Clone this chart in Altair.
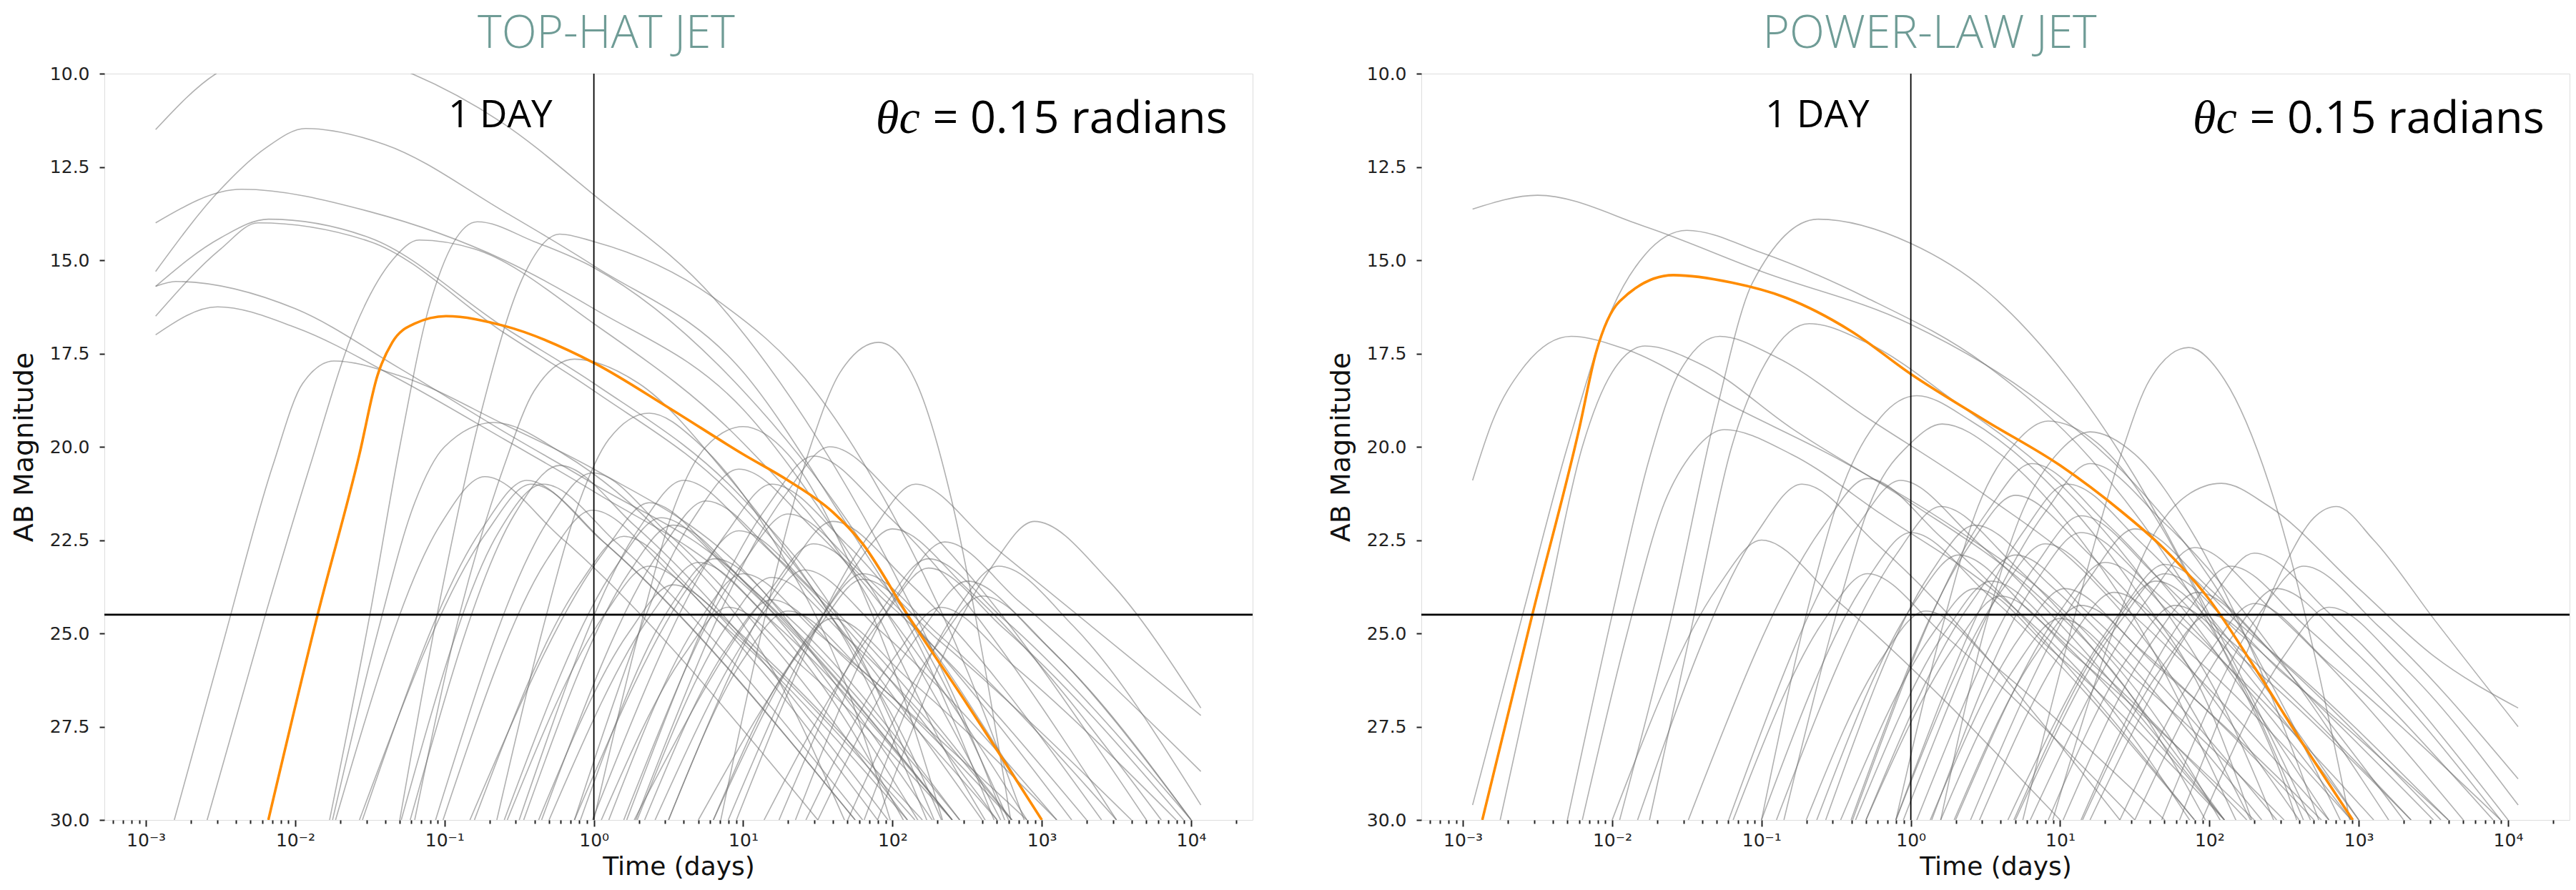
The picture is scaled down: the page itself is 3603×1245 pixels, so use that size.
import altair as alt
import pandas as pd

# ---------------- data (log10 of time in days, AB magnitude) ----------------
tophat_orange = [(-2.18, 30), (-1.85, 24.5), (-1.57, 20.2), (-1.45, 18.1), (-1.35, 17.2),
                 (-1.2, 16.7), (-0.99, 16.5), (-0.6, 16.76), (0.0, 17.75), (0.5, 18.95),
                 (1.0, 20.2), (1.3, 20.9), (1.6, 21.75), (1.8, 22.6), (2.1, 24.5),
                 (2.5, 26.9), (3.0, 30)]

tophat_grey = [
    [(-2.935, 11.5), (-2.53, 10.0), (-1.9, 9.2), (-1.22, 10.0), (-0.62, 11.3), (0, 13.25), (0.8, 16.0), (1.5, 19.8), (2.0, 23.3), (2.5, 27.5), (2.8, 30.5)],
    [(-2.935, 15.3), (-2.5, 13.1), (-2.2, 12.0), (-1.93, 11.47), (-1.4, 11.9), (-0.6, 13.7), (0, 15.15), (1.0, 18.0), (1.6, 21.5), (2.2, 25.5), (2.7, 30.2)],
    [(-2.935, 14.0), (-2.36, 13.1), (-1.5, 13.7), (-0.6, 15.0), (0, 16.3), (1.0, 19.0), (1.7, 22.8), (2.3, 26.8), (2.75, 30.2)],
    [(-2.935, 15.7), (-2.5, 14.4), (-2.18, 13.9), (-1.5, 14.4), (-0.6, 16.8), (0, 18.3), (1.0, 21.4), (1.7, 25.0), (2.3, 30.2)],
    [(-2.935, 16.5), (-2.5, 14.7), (-2.25, 14.0), (-1.5, 14.5), (-0.6, 16.95), (0, 18.5), (1.0, 21.6), (1.7, 25.3), (2.25, 30.2)],
    [(-2.935, 15.7), (-2.8, 15.57), (-2.0, 16.3), (-1.3, 17.9), (-0.6, 19.6), (0, 21.0), (1.0, 23.6), (1.6, 26.5), (2.2, 30.2)],
    [(-2.935, 17.0), (-2.52, 16.25), (-2.0, 16.8), (-1.3, 18.2), (-0.6, 19.8), (0, 21.2), (1.0, 23.9), (1.6, 26.8), (2.1, 30.2)],
    [(-2.81, 30), (-2.5, 25.5), (-2.15, 20.5), (-1.95, 18.3), (-1.74, 17.7), (-1.3, 18.1), (-0.6, 19.4), (0, 20.6), (1.0, 23.3), (1.7, 26.8), (2.3, 30.2)],
    [(-2.59, 30), (-2.2, 24.5), (-1.9, 20.5), (-1.6, 16.8), (-1.35, 15.0), (-1.17, 14.46), (-0.8, 14.7), (0, 16.7), (1.0, 19.9), (1.8, 23.8), (2.4, 28.5), (2.65, 30.2)],
    [(-1.77, 30), (-1.5, 24.5), (-1.3, 20.0), (-1.1, 16.2), (-0.78, 13.97), (-0.4, 14.5), (0, 15.2), (1.0, 18.5), (1.7, 22.0), (2.3, 26.0), (2.8, 30.2)],
    [(-1.3, 30), (-1.05, 24.5), (-0.75, 19.0), (-0.48, 15.5), (-0.23, 14.3), (0, 14.5), (0.8, 16.0), (1.5, 18.6), (2.0, 21.8), (2.5, 26.0), (2.9, 30.2)],
    [(0.85, 30), (1.15, 24.5), (1.45, 20.0), (1.65, 18.0), (1.907, 17.2), (2.15, 18.2), (2.4, 21.5), (2.6, 25.5), (2.8, 30.2)],
    [(-1.2, 30), (-0.9, 24.5), (-0.6, 20.5), (-0.4, 18.5), (-0.13, 17.65), (0.3, 18.3), (0.9, 20.8), (1.5, 24.0), (2.1, 28.0), (2.35, 30.2)],
    [(0.0, 30), (0.3, 25.0), (0.55, 21.5), (0.75, 20.0), (1.0, 19.46), (1.3, 20.2), (1.7, 23.0), (2.1, 27.0), (2.35, 30.2)],
    [(-0.65, 30), (-0.35, 25.0), (-0.1, 21.5), (0.1, 19.8), (0.37, 19.1), (0.7, 19.9), (1.2, 22.5), (1.7, 26.5), (2.0, 30.2)],
    [(-1.75, 30), (-1.45, 25.0), (-1.2, 21.5), (-1.0, 20.0), (-0.67, 19.35), (-0.2, 20.2), (0.5, 22.5), (1.2, 26.0), (1.7, 30.2)],
    [(-1.23, 30), (-0.53, 21.8), (-0.23, 20.5), (0.27, 22.1), (1.97, 30)],
    [(-1.06, 30), (-0.31, 22.0), (-0.01, 20.7), (0.49, 22.3), (2.1, 30)],
    [(-1.73, 30), (-1.03, 22.1), (-0.73, 20.8), (-0.23, 22.4), (1.5, 30)],
    [(-1.55, 30), (-0.75, 22.2), (-0.45, 20.9), (0.05, 22.5), (1.75, 30)],
    [(-1.57, 30), (-0.72, 22.3), (-0.42, 21.0), (0.08, 22.6), (1.75, 30)],
    [(-1.29, 30), (-0.64, 22.3), (-0.34, 21.0), (0.16, 22.6), (1.8, 30)],
    [(-0.83, 30), (0.07, 22.8), (0.37, 21.5), (0.87, 23.1), (2.4, 30)],
    [(-1.01, 30), (-0.31, 23.0), (-0.01, 21.7), (0.49, 23.3), (1.9, 30)],
    [(-0.13, 30), (0.67, 21.9), (0.97, 20.6), (1.47, 22.2), (2.9, 30)],
    [(-0.01, 30), (0.89, 22.3), (1.19, 21.0), (1.69, 22.6), (3.0, 30)],
    [(-0.35, 30), (0.45, 22.75), (0.75, 21.45), (1.25, 23.05), (2.7, 30)],
    [(-0.47, 30), (0.23, 23.4), (0.53, 22.1), (1.03, 23.7), (2.45, 30)],
    [(-0.13, 30), (0.67, 23.55), (0.97, 22.25), (1.47, 23.85), (2.8, 30)],
    [(0.27, 30), (1.17, 23.9), (1.47, 22.6), (1.97, 24.2), (3.3, 30)],
    [(-0.09, 30), (0.51, 24.3), (0.81, 23.0), (1.31, 24.6), (2.45, 30)],
    [(-0.30, 30), (0.40, 24.4), (0.70, 23.1), (1.20, 24.7), (2.4, 30)],
    [(-0.58, 30), (0.07, 24.5), (0.37, 23.2), (0.87, 24.8), (2.1, 30)],
    [(-0.37, 30), (0.23, 25.0), (0.53, 23.7), (1.03, 25.3), (2.15, 30)],
    [(0.41, 30), (1.11, 24.6), (1.41, 23.3), (1.91, 24.9), (3.1, 30)],
    [(0.80, 30), (1.50, 24.7), (1.80, 23.4), (2.30, 25.0), (3.5, 30)],
    [(0.70, 30), (1.50, 24.85), (1.80, 23.55), (2.30, 25.15), (3.6, 30)],
    [(0.29, 30), (0.89, 24.8), (1.19, 23.5), (1.69, 25.1), (2.8, 30)],
    [(1.24, 30), (1.94, 24.3), (2.24, 23.0), (2.74, 24.6), (4.0, 30)],
    [(1.14, 30), (1.94, 24.55), (2.24, 23.25), (2.74, 24.85), (3.95, 30)],
    [(1.42, 30), (2.02, 25.6), (2.32, 24.3), (2.82, 25.9), (3.9, 30)],
    [(0.34, 30), (0.89, 25.4), (1.19, 24.1), (1.69, 25.7), (2.7, 30)],
    [(0.955, 30), (1.855, 22.3), (2.155, 21.0), (2.655, 22.6), (4.065, 27.2)],
    [(0.28, 30), (1.28, 21.3), (1.58, 20.0), (2.08, 21.6), (3.7, 30)],
    [(0.22, 30), (1.17, 21.55), (1.47, 20.25), (1.97, 21.85), (3.5, 30)],
    [(1.90, 30), (2.65, 23.3), (2.95, 22.0), (3.45, 23.6), (4.065, 27.0)],
    [(1.81, 30), (2.41, 24.5), (2.71, 23.2), (3.21, 24.8), (4.065, 29.6)],
    [(1.35, 30), (2.05, 23.85), (2.35, 22.55), (2.85, 24.15), (4.065, 28.7)],
    [(0.5, 30), (1.0, 25.7), (1.3, 24.4), (1.8, 26.0), (2.8, 30)],
    [(0.8, 30), (1.3, 25.9), (1.6, 24.6), (2.1, 26.2), (3.1, 30)],
    [(0.05, 30), (0.6, 25.6), (0.9, 24.3), (1.4, 25.9), (2.4, 30)],
    [(1.7, 30), (2.3, 25.3), (2.6, 24.0), (3.1, 25.6), (4.0, 30)],
    [(-0.8, 30), (-0.1, 23.7), (0.2, 22.4), (0.7, 24.0), (2.2, 30)],
    [(-0.5, 30), (0.3, 22.2), (0.6, 20.9), (1.1, 22.5), (2.6, 30)],
    [(0.5, 30), (1.3, 23.3), (1.6, 22.0), (2.1, 23.6), (3.4, 30)],
    [(0.1, 30), (0.7, 24.7), (1.0, 23.4), (1.5, 25.0), (2.9, 30)],
    [(0.9, 30), (1.7, 23.5), (2.0, 22.2), (2.5, 23.8), (3.8, 30)],
    [(-0.6, 30), (0.15, 23.2), (0.45, 21.9), (0.95, 23.5), (2.4, 30)],
    [(0.2, 30), (1.0, 23.1), (1.3, 21.8), (1.8, 23.4), (3.2, 30)],
    [(1.5, 30), (2.2, 24.9), (2.5, 23.6), (3.0, 25.2), (4.0, 30)],
]

powerlaw_orange = [(-2.87, 30), (-2.535, 24.5), (-2.22, 19.5), (-2.11, 17.5), (-1.95, 16.1),
                   (-1.59, 15.4), (-1.2, 15.6), (-0.84, 16.0), (-0.4, 16.9), (0.0, 18.05),
                   (0.5, 19.3), (1.0, 20.5), (1.4, 21.7), (1.7, 22.75), (2.0, 24.1),
                   (2.3, 25.9), (2.6, 27.8), (2.96, 30)]

powerlaw_grey = [
    [(-2.935, 13.63), (-2.5, 13.26), (-1.78, 14.1), (-1.0, 15.3), (-0.01, 16.7), (0.8, 18.6), (1.5, 21.0), (2.0, 23.5), (2.5, 27.0), (2.9, 30.2)],
    [(-2.935, 20.9), (-2.8, 19.3), (-2.6, 17.9), (-2.275, 17.04), (-1.9, 17.4), (-1.2, 18.9), (-0.5, 20.3), (0.3, 22.2), (1.0, 24.3), (1.6, 27.0), (2.1, 30.2)],
    [(-2.935, 29.6), (-2.6, 24.5), (-2.3, 20.0), (-2.0, 16.3), (-1.78, 14.85), (-1.5, 14.2), (-1.0, 14.8), (-0.3, 16.0), (0.5, 17.8), (1.2, 20.3), (1.8, 23.5), (2.3, 27.0), (2.65, 30.2)],
    [(-1.95, 30), (-1.6, 24.5), (-1.3, 19.0), (-1.06, 15.6), (-0.62, 13.9), (0, 14.55), (0.5, 15.8), (1.0, 17.9), (1.5, 20.8), (2.0, 24.5), (2.5, 28.5), (2.7, 30.2)],
    [(-2.75, 30), (-2.45, 24.5), (-2.2, 20.0), (-2.0, 18.0), (-1.78, 17.3), (-1.4, 17.8), (-0.8, 19.5), (0, 21.5), (0.8, 23.8), (1.5, 26.8), (2.0, 30.2)],
    [(-2.3, 30), (-2.0, 24.5), (-1.75, 20.3), (-1.55, 18.0), (-1.28, 17.04), (-0.9, 17.6), (-0.3, 19.2), (0.5, 21.3), (1.2, 23.5), (1.8, 26.5), (2.3, 30.2)],
    [(-1.75, 30), (-1.45, 24.5), (-1.2, 20.0), (-0.95, 17.6), (-0.68, 16.7), (-0.3, 17.2), (0.3, 18.8), (1.0, 21.0), (1.6, 23.8), (2.1, 27.0), (2.45, 30.2)],
    [(-1.0, 30), (-0.7, 24.5), (-0.45, 21.0), (-0.2, 19.2), (0.04, 18.63), (0.4, 19.3), (1.0, 21.3), (1.5, 23.8), (2.0, 27.0), (2.3, 30.2)],
    [(-0.85, 30), (-0.5, 24.5), (-0.25, 21.3), (0, 19.9), (0.21, 19.39), (0.6, 20.2), (1.1, 22.3), (1.6, 25.3), (2.0, 28.5), (2.2, 30.2)],
    [(-2.2, 30), (-1.9, 25.0), (-1.65, 21.5), (-1.45, 20.1), (-1.25, 19.54), (-0.8, 20.2), (-0.2, 21.8), (0.6, 24.0), (1.3, 26.8), (1.9, 30.2)],
    [(-0.1, 30), (0.2, 25.0), (0.45, 21.6), (0.7, 19.9), (0.92, 19.31), (1.25, 19.9), (1.7, 22.3), (2.1, 25.5), (2.5, 29.0), (2.6, 30.2)],
    [(0.2, 30), (0.5, 24.8), (0.75, 21.7), (1.0, 20.1), (1.2, 19.6), (1.5, 20.2), (1.9, 22.4), (2.3, 25.6), (2.75, 30.2)],
    [(0.75, 30), (1.1, 24.5), (1.4, 20.3), (1.6, 18.2), (1.86, 17.34), (2.1, 18.2), (2.4, 21.0), (2.7, 25.5), (2.95, 30.2)],
    [(1.8, 30), (2.2, 26.0), (2.5, 23.2), (2.7, 21.9), (2.85, 21.6), (3.1, 22.5), (3.5, 24.6), (4.067, 27.5)],
    [(0.95, 30), (1.35, 25.0), (1.65, 22.2), (1.85, 21.3), (2.08, 20.98), (2.4, 21.6), (3.0, 23.8), (3.5, 25.6), (4.067, 27.0)],
    [(-1.83, 30), (-1.03, 22.3), (-0.73, 21.0), (-0.23, 22.6), (1.4, 30)],
    [(-1.49, 30), (-0.59, 22.15), (-0.29, 20.85), (0.21, 22.45), (1.9, 30)],
    [(-1.22, 30), (-0.37, 22.2), (-0.07, 20.9), (0.43, 22.5), (2.1, 30)],
    [(-0.39, 30), (0.51, 21.75), (0.81, 20.45), (1.31, 22.05), (2.8, 30)],
    [(-0.05, 30), (0.9, 21.75), (1.2, 20.45), (1.7, 22.05), (3.2, 30)],
    [(-0.40, 30), (0.40, 22.6), (0.70, 21.3), (1.20, 22.9), (2.6, 30)],
    [(0.04, 30), (0.84, 23.15), (1.14, 21.85), (1.64, 23.45), (3.0, 30)],
    [(0.14, 30), (0.84, 23.6), (1.14, 22.3), (1.64, 23.9), (2.95, 30)],
    [(-0.57, 30), (0.13, 23.4), (0.43, 22.1), (0.93, 23.7), (2.35, 30)],
    [(-0.63, 30), (0.02, 24.2), (0.32, 22.9), (0.82, 24.5), (2.1, 30)],
    [(-1.19, 30), (-0.59, 24.7), (-0.29, 23.4), (0.21, 25.0), (1.5, 30)],
    [(-0.30, 30), (0.40, 24.2), (0.70, 22.9), (1.20, 24.5), (2.45, 30)],
    [(0.65, 30), (1.40, 24.45), (1.70, 23.15), (2.20, 24.75), (3.55, 30)],
    [(0.70, 30), (1.40, 24.7), (1.70, 23.4), (2.20, 25.0), (3.5, 30)],
    [(1.20, 30), (2.00, 24.15), (2.30, 22.85), (2.80, 24.45), (4.0, 30)],
    [(1.14, 30), (1.84, 24.5), (2.14, 23.2), (2.64, 24.8), (3.9, 30)],
    [(1.68, 30), (2.33, 24.5), (2.63, 23.2), (3.13, 24.8), (4.067, 28.9)],
    [(-0.37, 30), (0.24, 24.9), (0.54, 23.6), (1.04, 25.2), (2.25, 30)],
    [(0.13, 30), (0.73, 25.1), (1.03, 23.8), (1.53, 25.4), (2.7, 30)],
    [(0.69, 30), (1.34, 24.9), (1.64, 23.6), (2.14, 25.2), (3.35, 30)],
    [(1.02, 30), (1.62, 25.2), (1.92, 23.9), (2.42, 25.5), (3.6, 30)],
    [(1.40, 30), (2.00, 25.5), (2.30, 24.2), (2.80, 25.8), (3.95, 30)],
    [(1.95, 30), (2.50, 25.6), (2.80, 24.3), (3.30, 25.9), (4.067, 29.6)],
    [(0.46, 30), (1.06, 25.2), (1.36, 23.9), (1.86, 25.5), (2.95, 30)],
    [(0.29, 30), (0.84, 25.55), (1.14, 24.25), (1.64, 25.85), (2.75, 30)],
    [(-0.47, 30), (0.13, 25.1), (0.43, 23.8), (0.93, 25.4), (2.1, 30)],
    [(0.92, 30), (1.47, 25.55), (1.77, 24.25), (2.27, 25.85), (3.35, 30)],
    [(-0.7, 30), (-0.2, 25.7), (0.1, 24.4), (0.6, 26.0), (1.7, 30)],
    [(0.2, 30), (0.7, 25.9), (1.0, 24.6), (1.5, 26.2), (2.5, 30)],
    [(1.15, 30), (1.7, 25.8), (2.0, 24.5), (2.5, 26.1), (3.6, 30)],
    [(-0.1, 30), (0.6, 23.9), (0.9, 22.6), (1.4, 24.2), (2.8, 30)],
    [(0.4, 30), (1.2, 23.5), (1.5, 22.2), (2.0, 23.8), (3.3, 30)],
    [(-0.9, 30), (-0.1, 22.9), (0.2, 21.6), (0.7, 23.2), (2.1, 30)],
    [(0.3, 30), (1.0, 24.4), (1.3, 23.1), (1.8, 24.7), (3.1, 30)],
    [(1.5, 30), (2.15, 25.1), (2.45, 23.8), (2.95, 25.4), (3.95, 30)],
    [(-0.3, 30), (0.3, 25.3), (0.6, 24.0), (1.1, 25.6), (2.3, 30)],
    [(0.8, 30), (1.6, 24.0), (1.9, 22.7), (2.4, 24.3), (3.7, 30)],
    [(-2.0, 30), (-1.3, 23.8), (-1.0, 22.5), (-0.5, 24.1), (1.0, 30)],
    [(-0.1, 30), (0.75, 22.3), (1.05, 21.0), (1.55, 22.6), (3.0, 30)],
    [(-1.0, 30), (-0.3, 23.6), (0.0, 22.3), (0.5, 23.9), (1.9, 30)],
]

panel_titles = ["TOP-HAT JET", "POWER-LAW JET"]
title_dx = [-101, -92]
y_ticks = [10.0, 12.5, 15.0, 17.5, 20.0, 22.5, 25.0, 27.5, 30.0]
x_domain = [5.27e-4, 2.58e4]
x_ticks = [m * 10.0 ** e for e in range(-4, 5) for m in range(1, 10)
           if x_domain[0] <= m * 10.0 ** e <= x_domain[1]]
one_day = 1.0
limit_mag = 24.5
day_label = "1 DAY"
theta_sym = "θc"
theta_text = "= 0.15 radians"

# ---------------- helpers ----------------
DEC = "abs(log(datum.value)/LN10 - round(log(datum.value)/LN10)) < 0.001"
LABEL_EXPR = (DEC + " ? ['10⁻³','10⁻²','10⁻¹','10⁰','10¹','10²','10³','10⁴']"
              "[round(log(datum.value)/LN10)+3] : ''")

xscale = alt.Scale(type="log", domain=x_domain, nice=False)
yscale = alt.Scale(domain=[10, 30], reverse=True, nice=False, zero=False)

xaxis = alt.Axis(values=x_ticks, labelExpr=LABEL_EXPR,
                 tickSize={"condition": {"test": DEC, "value": 9}, "value": 5},
                 tickWidth=2, tickColor="#222", labelFont="DejaVu Sans", labelFontSize=25,
                 labelColor="#222", labelPadding=7, labelOverlap=False, labelFlush=False,
                 title="Time (days)", titleFont="DejaVu Sans", titleFontSize=36,
                 titleFontWeight="normal", titleColor="#111", titlePadding=7,
                 domain=False, grid=False)
yaxis = alt.Axis(values=y_ticks, format=".1f", tickSize=7, tickWidth=2, tickColor="#222",
                 labelFont="DejaVu Sans", labelFontSize=25, labelColor="#222",
                 labelPadding=14, title="AB Magnitude", titleFont="DejaVu Sans",
                 titleFontSize=38, titleFontWeight="normal", titleColor="#111",
                 titlePadding=16, domain=False, grid=False)


def frame(curves):
    rows = []
    for j, c in enumerate(curves):
        for k, (lt, m) in enumerate(c):
            rows.append({"curve": j, "k": k, "t": 10.0 ** lt, "mag": m})
    return pd.DataFrame(rows)


def panel(grey, orange, title, dx):
    X = alt.X("t:Q", scale=xscale, axis=xaxis)
    Y = alt.Y("mag:Q", scale=yscale, axis=yaxis)
    g = alt.Chart(frame(grey)).mark_line(
        clip=True, interpolate="monotone", stroke="#707070", strokeOpacity=0.55,
        strokeWidth=1.6).encode(x=X, y=Y, detail="curve:N", order="k:Q")
    o = alt.Chart(frame([orange])).mark_line(
        clip=True, interpolate="monotone", stroke="#ff8c00", strokeWidth=3.6
    ).encode(x=X, y=Y, order="k:Q")
    vline = alt.Chart(pd.DataFrame({"t": [one_day]})).mark_rule(
        color="black", strokeWidth=1.8).encode(x=alt.X("t:Q", scale=xscale, axis=xaxis))
    hline = alt.Chart(pd.DataFrame({"mag": [limit_mag]})).mark_rule(
        color="black", strokeWidth=2.6).encode(y=alt.Y("mag:Q", scale=yscale, axis=yaxis))
    day = alt.Chart(pd.DataFrame({"t": [one_day], "mag": [11.44], "s": [day_label]})).mark_text(
        align="right", baseline="alphabetic", dx=-58, font="Open Sans", fontSize=53,
        color="black").encode(x=alt.X("t:Q", scale=xscale, axis=xaxis),
                              y=alt.Y("mag:Q", scale=yscale, axis=yaxis), text="s:N")
    th_df = pd.DataFrame({"t": [17500.0], "mag": [11.59], "a": [theta_text], "b": [theta_sym]})
    th1 = alt.Chart(th_df).mark_text(
        align="right", baseline="alphabetic", font="Open Sans", fontSize=63,
        color="black").encode(x=alt.X("t:Q", scale=xscale, axis=xaxis),
                              y=alt.Y("mag:Q", scale=yscale, axis=yaxis), text="a:N")
    th2 = alt.Chart(th_df).mark_text(
        align="right", baseline="alphabetic", dx=-430, font="Liberation Serif",
        fontStyle="italic", fontSize=66, color="black").encode(
        x=alt.X("t:Q", scale=xscale, axis=xaxis),
        y=alt.Y("mag:Q", scale=yscale, axis=yaxis), text="b:N")
    return alt.layer(g, o, vline, hline, day, th1, th2).properties(
        width=1606, height=1044,
        title=alt.TitleParams(title, font="Open Sans", fontSize=64, fontWeight=300,
                              color="#6f9c96", anchor="middle", dx=dx, offset=-40,
                              baseline="alphabetic"))


chart = alt.hconcat(
    panel(tophat_grey, tophat_orange, panel_titles[0], title_dx[0]),
    panel(powerlaw_grey, powerlaw_orange, panel_titles[1], title_dx[1]),
    spacing=102,
).properties(
    padding={"left": 14, "top": 15, "right": 0, "bottom": 0}
).configure_view(stroke="#222", strokeWidth=2.4).configure(background="white")

chart.save("out.html", embed_options={"renderer": "svg", "actions": False})
